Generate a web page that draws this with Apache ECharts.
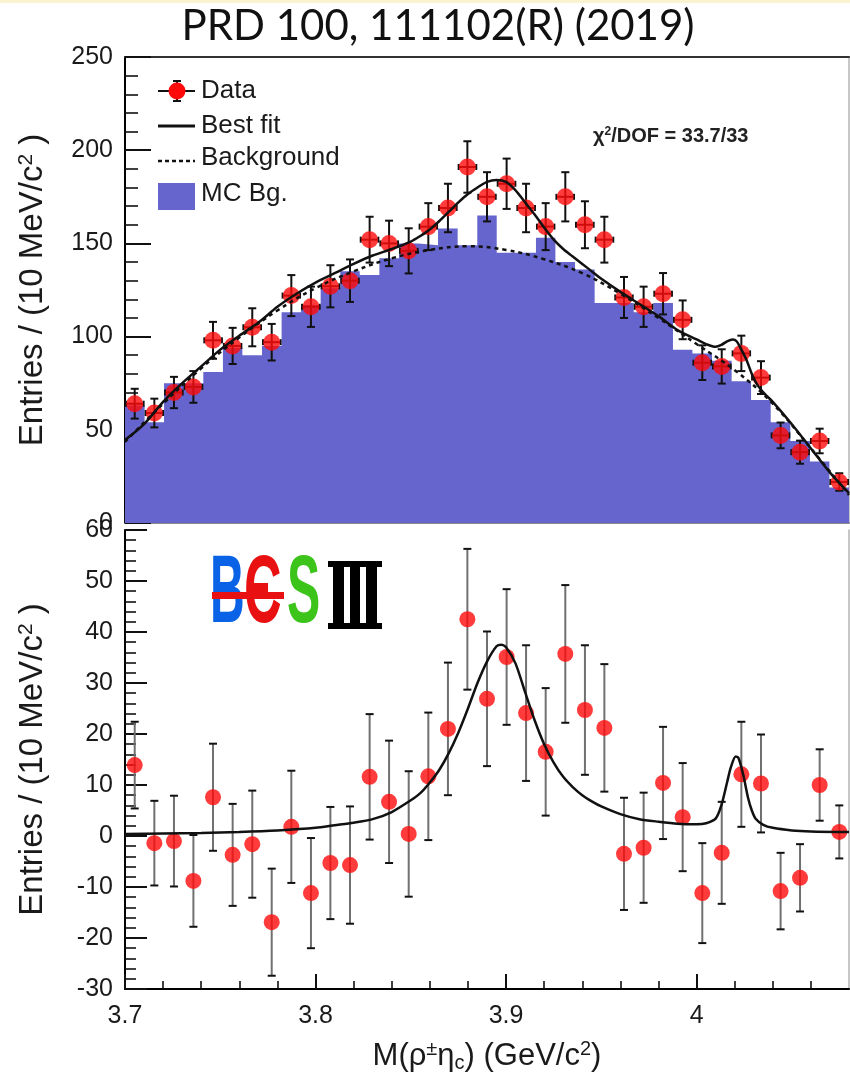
<!DOCTYPE html>
<html><head><meta charset="utf-8">
<script src="https://cdn.jsdelivr.net/npm/echarts@6/dist/echarts.min.js"></script>
<style>html,body{margin:0;padding:0;background:#fff}#c{width:850px;height:1084px}</style>
</head><body><div id="c"></div>
<script>
// ---- bins (37 bins from 3.70 to 4.08 GeV) ----
const binEdges = [3.7000,3.7103,3.7205,3.7308,3.7411,3.7514,3.7616,3.7719,3.7822,3.7924,3.8027,3.8130,3.8232,3.8335,3.8438,3.8541,3.8643,3.8746,3.8849,3.8951,3.9054,3.9157,3.9259,3.9362,3.9465,3.9568,3.9670,3.9773,3.9876,3.9978,4.0081,4.0184,4.0286,4.0389,4.0492,4.0595,4.0697,4.0800];
const binCenters = [3.7051,3.7154,3.7257,3.7359,3.7462,3.7565,3.7668,3.7770,3.7873,3.7976,3.8078,3.8181,3.8284,3.8386,3.8489,3.8592,3.8695,3.8797,3.8900,3.9003,3.9105,3.9208,3.9311,3.9414,3.9516,3.9619,3.9722,3.9824,3.9927,4.0030,4.0132,4.0235,4.0338,4.0441,4.0543,4.0646,4.0749];

// ---- top panel ----
const dataCounts = [64,59,70,73,98,95,105,97,122,116,127,130,152,150,146,159,169,191,175,182,169,159,175,160,152,121,116,123,109,86,84,91,78,47,38,44,22];
const dataErrors = [8.0,7.7,8.4,8.5,9.9,9.7,10.2,9.8,11.0,10.8,11.3,11.4,12.3,12.2,12.1,12.6,13.0,13.8,13.2,13.5,13.0,12.6,13.2,12.6,12.3,11.0,10.8,11.1,10.4,9.3,9.2,9.5,8.8,6.9,6.2,6.6,4.7];
const mcBg = [63,54,75,75,81,94,90,95,113,117,126,135,133,142,150,149,158,149,165,145,145,153,140,136,118,118,113,118,93,91,87,76,66,54,44,33,19];
const fitTopX = [3.700,3.710,3.720,3.730,3.740,3.750,3.760,3.770,3.780,3.790,3.800,3.810,3.820,3.830,3.840,3.850,3.855,3.860,3.865,3.870,3.875,3.880,3.885,3.890,3.895,3.900,3.905,3.910,3.915,3.920,3.925,3.930,3.935,3.940,3.945,3.950,3.960,3.970,3.980,3.990,4.000,4.005,4.010,4.013,4.016,4.019,4.021,4.023,4.026,4.029,4.032,4.036,4.040,4.050,4.060,4.070,4.080];
const fitTopY = [44.5,53,65,75,84,93,100.5,107.5,116,123,129,134,139,143.5,147,151,154,157.5,162,167,172,176.5,180,183,184,183,178.5,172,165.5,158.5,152,147,143,139,135,131,124,117.5,111,103.5,98.5,96,94.5,95.5,97.5,98.5,97.5,94,88,80,74,69,65,53,40,27,16];
const bgTopX = [3.70,3.72,3.74,3.76,3.78,3.80,3.82,3.84,3.86,3.88,3.90,3.92,3.94,3.96,3.98,4.00,4.02,4.04,4.06,4.08];
const bgTopY = [43.5,64,83,99.5,114,126,135,142,146.5,148.5,146.5,141.5,134,123,110,96,82,64,40,15];

// ---- bottom panel (background subtracted) ----
const diffValues = [13.9,-1.4,-1.0,-8.8,7.6,-3.7,-1.6,-16.9,1.8,-11.2,-5.3,-5.7,11.6,6.7,0.4,11.7,21.0,42.5,26.9,35.1,24.1,16.5,35.7,24.7,21.2,-3.5,-2.3,10.4,3.7,-11.2,-3.3,12.1,10.3,-10.8,-8.2,10.0,0.8];
const diffErrors = [8.5,8.3,8.9,9.0,10.5,10.0,10.5,10.5,11.0,10.8,11.0,11.5,12.3,12.0,12.3,12.5,13.0,13.8,13.2,13.3,13.3,12.5,13.5,12.7,12.5,11.0,10.8,11.0,10.6,9.8,10.0,10.3,9.6,7.5,6.6,7.0,5.2];
const fitBotX = [3.700,3.720,3.740,3.760,3.780,3.800,3.810,3.820,3.830,3.840,3.850,3.855,3.860,3.865,3.870,3.875,3.880,3.885,3.890,3.895,3.8975,3.900,3.905,3.910,3.915,3.920,3.925,3.930,3.935,3.940,3.945,3.950,3.960,3.970,3.980,3.990,4.000,4.005,4.010,4.013,4.016,4.018,4.0205,4.022,4.0245,4.027,4.029,4.031,4.035,4.040,4.050,4.060,4.080];
const fitBotY = [0.4,0.5,0.6,0.8,1.1,1.6,2.1,2.6,3.3,4.7,7.0,8.4,10.5,13.0,16.3,20.3,25.0,30.0,34.2,37.2,37.5,37.0,33.8,28.2,22.7,18.0,14.4,11.6,9.6,8.0,6.8,5.8,4.3,3.3,2.8,2.4,2.3,2.5,3.4,6.0,10.5,13.5,15.6,15.3,12.0,7.5,5.0,3.4,2.2,1.6,1.1,0.9,0.8];

const xMajorTicks = [3.7, 3.8, 3.9, 4.0];
const titleText = 'PRD 100, 111102(R) (2019)';
const legendLabels = ['Data', 'Best fit', 'Background', 'MC Bg.'];

// ---- build ----
const FONT = 'Liberation Sans';
const TXT = '#1a1a1a';
const RED = '#ff0a0a';
const BLUE = '#6565cd';

function errRenderer(withH, barColor) {
  return function (params, api) {
    const i = params.dataIndex;
    const x = api.value(0), y = api.value(1), e = api.value(2);
    const c = api.coord([x, y]);
    const t = api.coord([x, y + e]);
    const b = api.coord([x, y - e]);
    const kids = [
      {type:'line', shape:{x1:c[0], y1:t[1], x2:c[0], y2:b[1]}, style:{stroke:barColor, lineWidth:2}},
      {type:'line', shape:{x1:c[0]-4, y1:t[1], x2:c[0]+4, y2:t[1]}, style:{stroke:'#111', lineWidth:2}},
      {type:'line', shape:{x1:c[0]-4, y1:b[1], x2:c[0]+4, y2:b[1]}, style:{stroke:'#111', lineWidth:2}}
    ];
    if (withH) {
      const l = api.coord([binEdges[i], y]), r = api.coord([binEdges[i + 1], y]);
      kids.push({type:'line', shape:{x1:l[0]+1, y1:c[1], x2:r[0]-1, y2:c[1]}, style:{stroke:'#111', lineWidth:2}});
      kids.push({type:'line', shape:{x1:l[0]+1, y1:c[1]-3, x2:l[0]+1, y2:c[1]+3}, style:{stroke:'#111', lineWidth:2}});
      kids.push({type:'line', shape:{x1:r[0]-1, y1:c[1]-3, x2:r[0]-1, y2:c[1]+3}, style:{stroke:'#111', lineWidth:2}});
    }
    return {type:'group', children:kids};
  };
}

const histData = binEdges.slice(0, mcBg.length).map((e, i) => [e, mcBg[i]]);
histData.push([binEdges[binEdges.length - 1], mcBg[mcBg.length - 1]]);

const tickCommon = (len, minorLen) => ({
  axisTick: {show:true, inside:true, length:len, lineStyle:{color:'#111', width:2}},
  minorTick: {show:true, splitNumber:5, length:minorLen, lineStyle:{color:'#111', width:1.6}}
});

const yName = 'Entries / (10 MeV/c{s|2} )';
const yNameStyle = {fontSize:33, fontFamily:FONT, color:TXT,
  rich:{s:{fontSize:21, fontFamily:FONT, color:TXT, lineHeight:12, verticalAlign:'top'}}};

const option = {
  animation: false,
  backgroundColor: '#fff',
  grid: [
    {left:125, top:57, width:724, height:466},
    {left:125, top:530, width:724, height:459}
  ],
  xAxis: [
    Object.assign({gridIndex:0, type:'value', min:3.7, max:4.08, interval:0.1,
      axisLine:{show:true, onZero:false, lineStyle:{color:'#8a8a8a', width:2}},
      axisLabel:{show:false}, splitLine:{show:false}}, tickCommon(13, 7),
      {axisTick:{show:true, inside:true, length:13, customValues:xMajorTicks, lineStyle:{color:'#111', width:2}}}),
    Object.assign({gridIndex:1, type:'value', min:3.7, max:4.08, interval:0.1,
      axisLine:{show:true, onZero:false, lineStyle:{color:'#000', width:2}},
      splitLine:{show:false},
      axisLabel:{show:true, customValues:xMajorTicks, margin:15, fontSize:25, fontFamily:FONT, color:TXT,
        formatter: v => String(Math.round(v * 10) / 10)},
      name:'M(ρ{s|±}η{b|c}) (GeV/c{s|2})', nameLocation:'middle', nameGap:50,
      nameTextStyle:{fontSize:31, lineHeight:34, fontFamily:FONT, color:TXT,
        rich:{s:{fontSize:20, fontFamily:FONT, color:TXT, lineHeight:10, verticalAlign:'top'},
              b:{fontSize:20, fontFamily:FONT, color:TXT, lineHeight:8, verticalAlign:'bottom'}}}
    }, tickCommon(15, 8),
      {axisTick:{show:true, inside:true, length:15, customValues:xMajorTicks, lineStyle:{color:'#111', width:2}}}),
    {gridIndex:0, type:'value', position:'top', min:3.7, max:4.08,
      axisLine:{show:true, onZero:false, lineStyle:{color:'#333', width:2}},
      axisTick:{show:false}, axisLabel:{show:false}, splitLine:{show:false}}
  ],
  yAxis: [
    Object.assign({gridIndex:0, type:'value', min:0, max:250, interval:50,
      axisLine:{show:true, onZero:false, lineStyle:{color:'#000', width:2}},
      splitLine:{show:false},
      axisLabel:{fontSize:25, fontFamily:FONT, color:TXT, margin:12, showMinLabel:true, showMaxLabel:true},
      name:yName, nameLocation:'middle', nameGap:76, nameTextStyle:yNameStyle
    }, tickCommon(26, 13)),
    Object.assign({gridIndex:1, type:'value', min:-30, max:60, interval:10,
      axisLine:{show:true, onZero:false, lineStyle:{color:'#000', width:2}},
      splitLine:{show:false},
      axisLabel:{fontSize:25, fontFamily:FONT, color:TXT, margin:12, showMinLabel:true, showMaxLabel:true},
      name:yName, nameLocation:'middle', nameGap:76, nameTextStyle:yNameStyle
    }, tickCommon(22, 11)),
    {gridIndex:0, type:'value', position:'right', min:0, max:250,
      axisLine:{show:true, onZero:false, lineStyle:{color:'#b5b5b5', width:1.5}},
      axisTick:{show:false}, axisLabel:{show:false}, splitLine:{show:false}},
    {gridIndex:1, type:'value', position:'right', min:-30, max:60,
      axisLine:{show:true, onZero:false, lineStyle:{color:'#b5b5b5', width:1.5}},
      axisTick:{show:false}, axisLabel:{show:false}, splitLine:{show:false}}
  ],
  series: [
    {type:'line', name:'MC Bg.', xAxisIndex:0, yAxisIndex:0, step:'end', data:histData,
      showSymbol:false, symbol:'none', lineStyle:{width:0}, areaStyle:{color:BLUE, opacity:1}, z:1},
    {type:'custom', name:'Data err', xAxisIndex:0, yAxisIndex:0, z:3,
      data: binCenters.map((x, i) => [x, dataCounts[i], dataErrors[i]]),
      renderItem: errRenderer(true, '#111'), encode:{x:0, y:1}},
    {type:'scatter', name:'Data', xAxisIndex:0, yAxisIndex:0, z:4, symbolSize:17,
      itemStyle:{color:RED}, data: binCenters.map((x, i) => [x, dataCounts[i]])},
    {type:'line', name:'Background', xAxisIndex:0, yAxisIndex:0, z:5, smooth:0.4, symbol:'none',
      data: bgTopX.map((x, i) => [x, bgTopY[i]]),
      lineStyle:{color:'#111', width:2.5, type:[4,4]}},
    {type:'line', name:'Best fit', xAxisIndex:0, yAxisIndex:0, z:6, smooth:0.3, symbol:'none',
      data: fitTopX.map((x, i) => [x, fitTopY[i]]),
      lineStyle:{color:'#111', width:2.5}},
    {type:'custom', name:'Diff err', xAxisIndex:1, yAxisIndex:1, z:3,
      data: binCenters.map((x, i) => [x, diffValues[i], diffErrors[i]]),
      renderItem: errRenderer(false, '#707070'), encode:{x:0, y:1}},
    {type:'scatter', name:'Diff', xAxisIndex:1, yAxisIndex:1, z:4, symbolSize:16,
      itemStyle:{color:RED}, data: binCenters.map((x, i) => [x, diffValues[i]])},
    {type:'line', name:'Signal fit', xAxisIndex:1, yAxisIndex:1, z:6, smooth:0.25, symbol:'none',
      data: fitBotX.map((x, i) => [x, fitBotY[i]]),
      lineStyle:{color:'#111', width:2.5}}
  ],
  graphic: [
    {type:'rect', shape:{x:0, y:0, width:850, height:3}, style:{fill:'#fbf2cf'}},
    {type:'text', x:438, y:26, style:{text:titleText, font:'42px Lato', fill:'#111', align:'center', verticalAlign:'middle'}},
    // legend
    {type:'line', shape:{x1:158, y1:91, x2:195, y2:91}, style:{stroke:'#111', lineWidth:2}},
    {type:'line', shape:{x1:177, y1:81, x2:177, y2:101}, style:{stroke:'#111', lineWidth:2}},
    {type:'line', shape:{x1:173, y1:81, x2:181, y2:81}, style:{stroke:'#111', lineWidth:2}},
    {type:'line', shape:{x1:173, y1:101, x2:181, y2:101}, style:{stroke:'#111', lineWidth:2}},
    {type:'circle', shape:{cx:177, cy:91, r:8.5}, style:{fill:RED}},
    {type:'line', shape:{x1:158, y1:126, x2:195, y2:126}, style:{stroke:'#111', lineWidth:3}},
    {type:'line', shape:{x1:158, y1:161, x2:195, y2:161}, style:{stroke:'#111', lineWidth:2.5, lineDash:[4,3]}},
    {type:'rect', shape:{x:158, y:183, width:37, height:27}, style:{fill:BLUE}},
    {type:'text', x:201, y:91, style:{text:legendLabels[0], font:'26px "Liberation Sans"', fill:TXT, verticalAlign:'middle'}},
    {type:'text', x:201, y:126, style:{text:legendLabels[1], font:'26px "Liberation Sans"', fill:TXT, verticalAlign:'middle'}},
    {type:'text', x:201, y:158, style:{text:legendLabels[2], font:'26px "Liberation Sans"', fill:TXT, verticalAlign:'middle'}},
    {type:'text', x:201, y:194, style:{text:legendLabels[3], font:'26px "Liberation Sans"', fill:TXT, verticalAlign:'middle'}},
    // chi2
    {type:'text', x:593, y:136, style:{text:'{a|χ}{s|2}{a|/DOF = 33.7/33}', verticalAlign:'middle',
      rich:{a:{font:'bold 20px "Liberation Sans"', fill:'#222'}, s:{font:'bold 12px "Liberation Sans"', fill:'#222', lineHeight:8, verticalAlign:'top'}}}},
    // BESIII logo
    {type:'text', x:210, y:596, scaleX:0.5, style:{text:'B', font:'bold 96px "Liberation Sans"', fill:'#0a62e6', verticalAlign:'middle'}},
    {type:'text', x:244, y:596, scaleX:0.55, style:{text:'Є', font:'bold 96px "Liberation Sans"', fill:'#e81010', verticalAlign:'middle'}},
    {type:'rect', shape:{x:212, y:592, width:72, height:7}, style:{fill:'#e81010'}},
    {type:'text', x:287, y:596, scaleX:0.52, style:{text:'S', font:'bold 96px "Liberation Sans"', fill:'#3cc41a', verticalAlign:'middle'}},
    {type:'rect', shape:{x:328, y:561, width:54, height:6}, style:{fill:'#000'}},
    {type:'rect', shape:{x:328, y:623, width:54, height:6}, style:{fill:'#000'}},
    {type:'rect', shape:{x:333, y:561, width:11, height:68}, style:{fill:'#000'}},
    {type:'rect', shape:{x:350, y:561, width:10, height:68}, style:{fill:'#000'}},
    {type:'rect', shape:{x:366, y:561, width:11, height:68}, style:{fill:'#000'}}
  ]
};

const chart = echarts.init(document.getElementById('c'), null, {renderer:'canvas'});
chart.setOption(option);
</script>
</body></html>
